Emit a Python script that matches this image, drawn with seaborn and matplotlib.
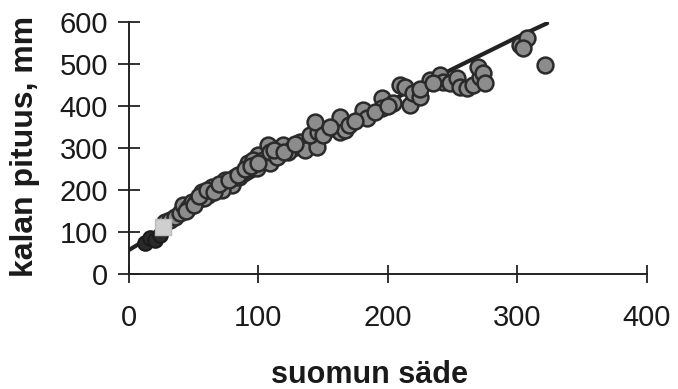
import matplotlib
matplotlib.use("Agg")
import matplotlib.pyplot as plt
import seaborn as sns
import pandas as pd

# scale radius (suomun säde) vs fish length (kalan pituus, mm)
radius = [27.8, 31.7, 35.5, 39.4, 41.7, 45.6, 48.6, 52.5, 56.4, 61.0,
          64.1, 68.7, 74.1, 79.5, 81.9, 88.0, 91.9, 98.8, 99.6, 105.0,
          107.3, 95.8, 103.5, 108.9, 108.9, 114.3, 118.9, 126.6, 132.0, 135.9,
          145.2, 139.8, 145.9, 143.6, 157.5, 162.9, 166.8, 162.9, 180.7, 183.8,
          195.4, 195.4, 203.9, 209.3, 217.0, 213.1, 219.3, 224.7, 232.4, 240.2,
          242.5, 247.9, 253.3, 255.6, 261.0, 265.6, 271.0, 269.5, 273.4, 274.9,
          301.9, 307.3, 304.2, 321.2, 58.0, 72.0, 85.0, 123.0, 170.0, 190.0,
          44.0, 50.0, 54.0, 60.0, 66.0, 70.0, 77.0, 84.0, 90.0, 94.0,
          100.0, 112.0, 120.0, 128.0, 150.0, 155.0, 175.0, 200.0, 225.0, 235.0]
length = [123.8, 128.6, 135.7, 145.2, 164.3, 157.1, 171.4, 176.2, 195.2, 188.1,
          207.1, 204.8, 223.8, 211.9, 231.0, 240.5, 264.3, 252.4, 283.3, 271.4,
          307.1, 271.4, 271.4, 264.3, 290.5, 278.6, 307.1, 300.0, 314.3, 295.2,
          302.4, 331.0, 338.1, 361.9, 347.6, 338.1, 342.9, 373.8, 390.5, 371.4,
          419.0, 395.2, 407.1, 450.0, 402.4, 445.2, 431.0, 421.4, 461.9, 473.8,
          457.1, 454.8, 466.7, 445.2, 442.9, 450.0, 469.0, 492.9, 478.6, 454.8,
          545.2, 561.9, 538.1, 497.6, 180.0, 200.0, 230.0, 290.0, 355.0, 385.0,
          150.0, 165.0, 185.0, 200.0, 195.0, 215.0, 225.0, 235.0, 250.0, 258.0,
          265.0, 295.0, 290.0, 310.0, 330.0, 350.0, 365.0, 400.0, 440.0, 455.0]

# small dark fish near the origin
small_radius = [12.4, 16.2, 20.0, 23.9]
small_length = [73.8, 85.7, 81.0, 92.9]

# single light square marker
sq_radius = [26.3]
sq_length = [111.9]

# fitted growth curve
fit_radius = [0, 50, 100, 150, 200, 250, 300, 323]
fit_length = [57, 150, 240, 326, 409, 488, 564, 597]

x_ticks = [0, 100, 200, 300, 400]
y_ticks = [0, 100, 200, 300, 400, 500, 600]

sns.set_theme(style="white")
plt.rcParams['font.family'] = ['Liberation Sans', 'DejaVu Sans']

fig = plt.figure(figsize=(6.78, 3.89), dpi=100)
ax = fig.add_axes([0.190, 0.2956, 0.764, 0.6478])

df = pd.DataFrame({"r": radius, "L": length})
df_small = pd.DataFrame({"r": small_radius, "L": small_length})
df_sq = pd.DataFrame({"r": sq_radius, "L": sq_length})
df_fit = pd.DataFrame({"r": fit_radius, "L": fit_length})

sns.lineplot(data=df_fit, x="r", y="L", ax=ax, color="#222222", linewidth=3, zorder=2)
sns.scatterplot(data=df, x="r", y="L", ax=ax, s=130, color="#8c8c8c",
                edgecolor="#2a2a2a", linewidth=1.8, zorder=3)
sns.scatterplot(data=df_small, x="r", y="L", ax=ax, s=110, color="#2a2a2a",
                edgecolor="#1a1a1a", linewidth=1.5, zorder=3)
sns.scatterplot(data=df_sq, x="r", y="L", ax=ax, s=120, marker="s", color="#cfcfcf",
                edgecolor="#bbbbbb", linewidth=1.0, zorder=4)

ax.set_xlim(0, 400)
ax.set_ylim(0, 600)
ax.set_xticks(x_ticks)
ax.set_yticks(y_ticks)
ax.set_xticklabels([str(t) for t in x_ticks])
ax.set_yticklabels([str(t) for t in y_ticks])

for s in ["top", "right"]:
    ax.spines[s].set_visible(False)
for s in ["left", "bottom"]:
    ax.spines[s].set_color("#222222")
    ax.spines[s].set_linewidth(1.4)

ax.tick_params(axis="both", which="major", bottom=True, left=True, direction="inout",
               width=1.3, color="#222222", labelsize=21, labelcolor="#1a1a1a")
ax.tick_params(axis="x", length=13, pad=15)
ax.tick_params(axis="y", length=16, pad=7)
for lab in ax.get_xticklabels() + ax.get_yticklabels():
    lab.set_clip_on(False)

ax.set_xlabel("suomun säde", fontsize=22, fontweight="bold", color="#1a1a1a",
              va="baseline")
ax.xaxis.set_label_coords(0.465, -0.4325)
ax.set_ylabel("kalan pituus, mm", fontsize=23, fontweight="bold", color="#1a1a1a",
              va="center")
ax.yaxis.set_label_coords(-0.20, 0.508)

fig.savefig("out.png", dpi=100)
